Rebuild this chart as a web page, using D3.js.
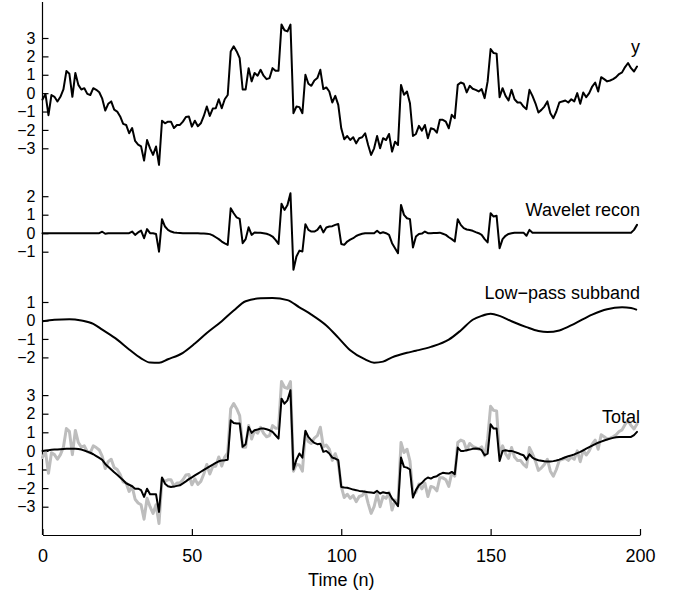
<!DOCTYPE html>
<html>
<head>
<meta charset="utf-8">
<script src="https://cdn.jsdelivr.net/npm/d3@7"></script>
<style>
  body { margin: 0; background: #fff; }
  svg { display: block; }
  text { font-family: "Liberation Sans", Arial, Helvetica, sans-serif; fill: #000; }
</style>
</head>
<body>
<svg id="chart" width="682" height="594"></svg>
<script>
// Observed signal y[n], n = 0..199
const signalY = [
  -0.35, -0.05, -1.2, -0.1, -0.2, -0.45, -0.2, 0.2, 1.2, 1.05,
  -0.2, 1.1, 0.45, 0.2, 0.27, -0.04, -0.1, 0.27, 0.18, 0.05,
  -0.3, -0.95, -0.58, -0.45, -0.9, -1.0, -1.27, -1.67, -1.73, -2.18,
  -1.9, -2.6, -2.8, -2.9, -3.67, -2.55, -3.0, -3.36, -2.9, -3.9,
  -1.5, -1.64, -1.55, -1.55, -1.9, -1.73, -1.73, -1.55, -1.3, -1.27,
  -1.82, -1.5, -1.8, -1.64, -1.24, -0.73, -1.24, -0.84, -0.82, -0.33,
  -0.82, -0.33, -0.1, 2.27, 2.55, 2.27, 1.9, 0.2, 0.2, 1.36,
  0.64, 1.1, 0.95, 1.27, 0.95, 0.76, 0.82, 1.36, 1.22, 1.22,
  3.73, 3.42, 3.36, 3.73, -1.09, -0.73, -0.76, -1.09, 1.0, 0.51,
  0.4, 0.69, 0.82, 1.27, 0.22, 0.31, 0.09, -0.51, -0.15, -0.64,
  -1.91, -2.51, -2.33, -2.55, -2.4, -2.73, -2.45, -2.4, -2.18, -2.82,
  -3.36, -3.0, -2.33, -3.0, -2.45, -2.55, -2.22, -3.18, -2.64, -2.82,
  0.45, -0.09, 0.09, -0.55, -2.33, -2.22, -1.78, -2.04, -1.73, -2.45,
  -1.91, -1.96, -2.15, -1.45, -1.45, -1.55, -1.91, -1.18, -1.36, 0.45,
  0.58, 0.51, 0.04, 0.4, 0.24, 0.18, 0.09, 0.22, -0.27, 0.64,
  2.4, 2.18, 2.15, -0.22, 0.27, -0.15, -0.4, 0.18, -0.33, -0.51,
  -0.51, -0.73, -0.87, 0.18, -0.15, -0.55, -1.05, -0.91, -0.73, -0.45,
  -1.09, -1.36, -1.0, -0.51, -0.45, -0.4, -0.51, -0.33, -0.45, 0.0,
  -0.58, 0.04, -0.22, 0.0, 0.36, 0.58, 0.09, 0.87, 0.76, 0.64,
  0.69, 0.76, 0.87, 1.04, 1.13, 1.42, 1.64, 1.36, 1.18, 1.45
];

// Reconstruction from the wavelet (detail) coefficients
const waveletRecon = [
  0, 0, 0, 0, 0, 0, 0, 0, 0, 0,
  0, 0, 0, 0, 0, 0, 0, 0, 0, 0,
  0.08, -0.03, 0, 0, 0, 0, 0, 0, 0, 0,
  0.09, -0.09, 0.04, 0.14, -0.27, 0.22, 0, 0, -0.04, -1.0,
  0.76, 0.36, 0.18, 0.09, 0.04, 0.02, 0.01, 0, 0, 0,
  0, 0, 0, -0.01, -0.02, -0.03, -0.05, -0.12, -0.22, -0.32,
  -0.45, -0.55, -0.63, 1.35, 1.08, 0.85, 0.77, -0.54, -0.32, 0.32,
  -0.09, 0.04, 0.03, 0.02, 0, -0.03, -0.09, -0.18, -0.36, -0.58,
  1.59, 1.26, 1.53, 2.16, -1.98, -1.26, -0.94, -0.99, 0.49, 0.18,
  0.09, 0.09, 0.18, 0.4, 0.04, 0.31, 0.36, 0.38, 0.45, 0.5,
  -0.58, -0.63, -0.45, -0.35, -0.27, -0.15, -0.08, -0.03, 0, 0,
  0, 0, 0.13, 0, 0.05, 0, -0.09, -0.54, -0.81, -1.08,
  1.53, 0.99, 0.81, 0.76, -0.77, -0.18, -0.04, -0.02, 0.09, 0,
  0, 0.01, 0.01, 0.03, -0.03, -0.09, -0.22, -0.32, -0.45, 0.76,
  0.45, 0.27, 0.2, 0.17, 0.13, 0.06, 0, -0.09, -0.32, -0.5,
  1.08, 0.9, 0.94, -0.81, -0.32, -0.14, -0.04, 0, 0.03, 0.03,
  0.03, 0.03, -0.14, 0.18, 0.03, 0.03, 0.03, 0.03, 0.03, 0.03,
  0.03, 0.03, 0.03, 0.03, 0.03, 0.03, 0.03, 0.03, 0.03, 0.03,
  0.03, 0.03, 0.03, 0.03, 0.03, 0.03, 0.03, 0.03, 0.03, 0.03,
  0.03, 0.03, 0.03, 0.03, 0.03, 0.03, 0.03, 0.03, 0.18, 0.45
];

// Low-pass subband, sampled along n
const lowpassN = [0, 4, 9, 13, 17, 20, 25, 29, 33, 36, 39, 42, 47, 51, 55, 60, 64, 68, 73, 77,
  82, 86, 90, 95, 99, 103, 108, 111, 114, 117, 122, 125, 130, 136, 140, 144, 147, 150, 153, 157,
  162, 166, 169, 173, 178, 184, 189, 194, 197, 199];
const lowpassV = [-0.04, 0.04, 0.07, 0, -0.18, -0.5, -1.04, -1.57, -2.05, -2.28, -2.29, -2.1, -1.75, -1.25, -0.68, -0.04, 0.54, 1.04, 1.2, 1.21,
  1.1, 0.71, 0.32, -0.27, -0.93, -1.61, -2.11, -2.29, -2.23, -2.0, -1.75, -1.64, -1.43, -1.04, -0.54, 0.04, 0.25, 0.36, 0.25, -0.04,
  -0.36, -0.57, -0.63, -0.54, -0.18, 0.32, 0.61, 0.71, 0.68, 0.57];

// Total reconstruction (wavelet recon + low-pass)
const totalRecon = [
  0, 0.02, 0.04, 0.06, 0.07, 0.08, 0.09, 0.1, 0.11, 0.12,
  0.12, 0.12, 0.1, 0.07, 0.02, -0.04, -0.1, -0.18, -0.28, -0.38,
  -0.48, -0.7, -0.85, -1.0, -1.15, -1.28, -1.43, -1.58, -1.74, -1.82,
  -1.9, -2.03, -2.03, -2.11, -2.47, -2.03, -2.33, -2.33, -2.33, -3.28,
  -1.43, -1.76, -1.9, -1.94, -1.92, -1.88, -1.85, -1.75, -1.64, -1.52,
  -1.42, -1.32, -1.22, -1.12, -1.02, -0.93, -0.83, -0.74, -0.64, -0.56,
  -0.52, -0.5, -0.47, 1.65, 1.5, 1.47, 1.47, 0.22, 0.36, 1.29,
  0.97, 1.11, 1.15, 1.2, 1.2, 1.16, 1.11, 1.02, 0.84, 0.66,
  2.81, 2.54, 2.72, 3.26, -1.0, -0.47, -0.14, -0.36, 1.08, 0.75,
  0.57, 0.43, 0.36, 0.39, -0.05, 0, -0.14, -0.36, -0.41, -0.5,
  -1.94, -1.97, -1.98, -2.03, -2.08, -2.11, -2.15, -2.17, -2.2, -2.22,
  -2.24, -2.26, -2.15, -2.29, -2.22, -2.26, -2.26, -2.56, -2.74, -2.97,
  -0.36, -0.86, -0.9, -1.0, -2.51, -2.11, -1.85, -1.72, -1.54, -1.43,
  -1.49, -1.4, -1.36, -1.25, -1.18, -1.2, -1.22, -1.13, -1.25, 0.18,
  0, 0, 0.04, 0.07, 0.11, 0.13, 0.12, 0.04, -0.23, -0.15,
  1.43, 1.2, 1.2, -0.54, 0, 0.04, 0, 0, -0.05, -0.11,
  -0.18, -0.23, -0.47, -0.18, -0.36, -0.45, -0.5, -0.53, -0.56, -0.57,
  -0.57, -0.55, -0.52, -0.47, -0.41, -0.34, -0.29, -0.24, -0.19, -0.12,
  -0.05, 0.03, 0.12, 0.2, 0.28, 0.36, 0.44, 0.5, 0.56, 0.61,
  0.66, 0.7, 0.73, 0.75, 0.75, 0.75, 0.75, 0.75, 0.85, 1.02
];

const xTicks = [0, 50, 100, 150, 200];
const panelLabels = ["y", "Wavelet recon", "Low\u2212pass subband", "Total"];
const panelTicks = [
  [-3, -2, -1, 0, 1, 2, 3],
  [-1, 0, 1, 2],
  [-2, -1, 0, 1],
  [-3, -2, -1, 0, 1, 2, 3]
];
const xLabel = "Time (n)";

// ---- layout ----
const svg = d3.select("#chart");
const axisX = 42.5, rightX = 640, axisTop = 2, axisBottom = 535;

const x = d3.scaleLinear().domain([0, 200]).range([axisX, rightX]);

// vertical bands of the four stacked traces (domain low/high -> pixel)
const panels = [
  { domain: [-3, 3], range: [148.3, 38.0], labelY: 53 },
  { domain: [-1, 2], range: [251.7, 196.2], labelY: 216 },
  { domain: [-2, 1], range: [357.4, 302.0], labelY: 299 },
  { domain: [-3, 3], range: [506.7, 395.1], labelY: 423 }
];
const yScales = panels.map(p => d3.scaleLinear().domain(p.domain).range(p.range));

// continuous left spine
svg.append("line")
  .attr("x1", axisX).attr("x2", axisX)
  .attr("y1", axisTop).attr("y2", axisBottom)
  .attr("stroke", "#000").attr("stroke-width", 1.2);

// left tick marks and labels for each trace
yScales.forEach((ys, i) => {
  const g = svg.append("g").attr("transform", `translate(${axisX},0)`)
    .call(d3.axisLeft(ys).tickValues(panelTicks[i]).tickSizeInner(-6).tickSizeOuter(0).tickPadding(7)
      .tickFormat(d3.format("d")));
  g.select(".domain").remove();
  g.selectAll(".tick line").attr("stroke", "#000").attr("stroke-width", 1.2);
  g.selectAll(".tick text").attr("font-size", 16).attr("font-family", "Liberation Sans, Arial, sans-serif").attr("fill", "#000");
});

// bottom time axis
const gx = svg.append("g").attr("transform", `translate(0,${axisBottom})`)
  .call(d3.axisBottom(x).tickValues(xTicks).tickSizeInner(-6).tickSizeOuter(0).tickPadding(14)
    .tickFormat(d3.format("d")));
gx.select(".domain").attr("stroke", "#000").attr("stroke-width", 1.2);
gx.selectAll(".tick line").attr("stroke", "#000").attr("stroke-width", 1.2);
gx.selectAll(".tick text").attr("font-size", 18).attr("font-family", "Liberation Sans, Arial, sans-serif").attr("fill", "#000");

svg.append("text")
  .attr("x", x(100)).attr("y", 586)
  .attr("text-anchor", "middle").attr("font-size", 18)
  .text(xLabel);

// ---- traces ----
const idx = d3.range(signalY.length);
const lineFor = ys => d3.line().x(i => x(i)).y(v => v).curve(d3.curveLinear);

function drawSeries(values, ys, color, width) {
  const gen = d3.line().x((v, i) => x(i)).y(v => ys(v)).curve(d3.curveLinear);
  svg.append("path")
    .attr("d", gen(values))
    .attr("fill", "none")
    .attr("stroke", color)
    .attr("stroke-width", width)
    .attr("stroke-linejoin", "round")
    .attr("stroke-linecap", "round");
}

// y
drawSeries(signalY, yScales[0], "#000", 2);
// wavelet reconstruction
drawSeries(waveletRecon, yScales[1], "#000", 2);
// low-pass subband (smooth)
const lowPts = lowpassN.map((n, i) => [n, lowpassV[i]]);
svg.append("path")
  .attr("d", d3.line().x(d => x(d[0])).y(d => yScales[2](d[1])).curve(d3.curveMonotoneX)(lowPts))
  .attr("fill", "none").attr("stroke", "#000").attr("stroke-width", 2);
// total: original signal in grey under the reconstruction
drawSeries(signalY, yScales[3], "#bdbdbd", 3);
drawSeries(totalRecon, yScales[3], "#000", 2);

// trace labels
panels.forEach((p, i) => {
  svg.append("text")
    .attr("x", rightX).attr("y", p.labelY)
    .attr("text-anchor", "end").attr("font-size", 18)
    .text(panelLabels[i]);
});
</script>
</body>
</html>
